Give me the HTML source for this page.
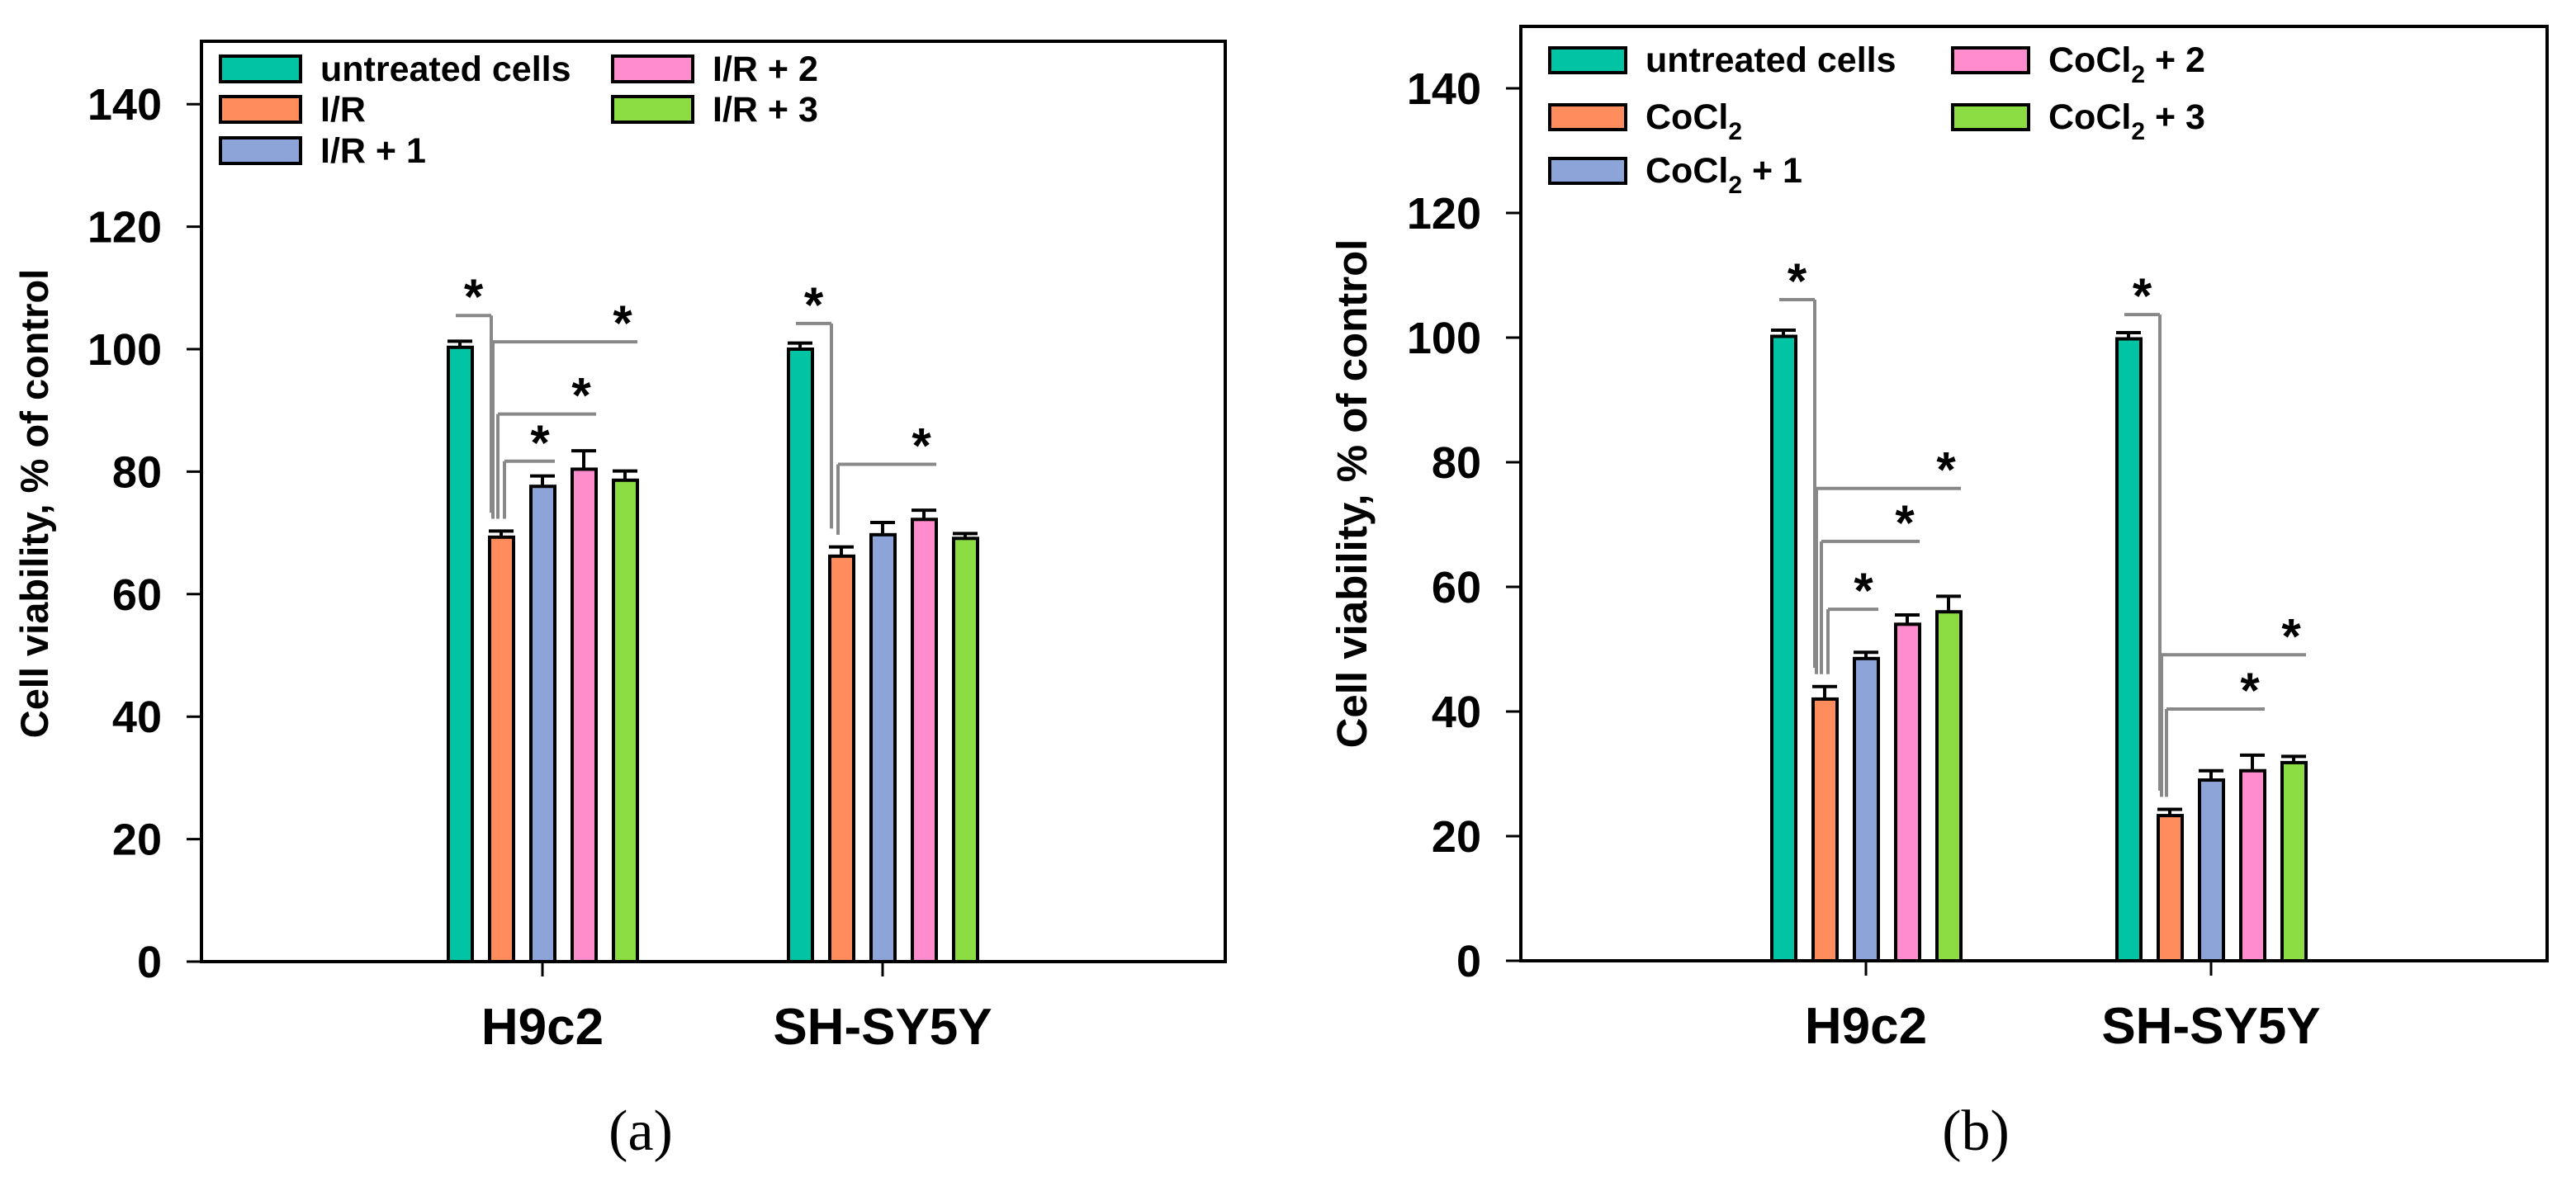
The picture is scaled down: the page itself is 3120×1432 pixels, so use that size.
<!DOCTYPE html>
<html><head><meta charset="utf-8">
<style>
html,body{margin:0;padding:0;background:#fff;}
svg{display:block;}
</style></head>
<body>
<svg id="fig" width="3120" height="1432" viewBox="0 0 3120 1432" xmlns="http://www.w3.org/2000/svg" font-family="Liberation Sans, Arial, sans-serif">
<rect width="3120" height="1432" fill="#fff"/>
</svg>
<script>
const categories = ["H9c2", "SH-SY5Y"];
const yTicks = [0, 20, 40, 60, 80, 100, 120, 140];
const colors = ["#00c4a4", "#ff8c5c", "#8ca4d8", "#ff8ccc", "#8cdc44"];
const seriesA = ["untreated cells", "I/R", "I/R + 1", "I/R + 2", "I/R + 3"];
const seriesB = ["untreated cells", "CoCl", "CoCl + 1", "CoCl + 2", "CoCl + 3"];
// values [category][series]
const valuesA_H9c2 = [100.3, 69.3, 77.6, 80.4, 78.6];
const valuesA_SH = [100.0, 66.2, 69.7, 72.2, 69.1];
const errA_H9c2 = [1.0, 1.0, 1.7, 3.0, 1.5];
const errA_SH = [1.0, 1.5, 2.0, 1.5, 0.8];
const valuesB_H9c2 = [100.2, 42.0, 48.5, 54.0, 56.0];
const valuesB_SH = [99.8, 23.3, 29.0, 30.5, 31.8];
const errB_H9c2 = [1.0, 2.0, 1.0, 1.5, 2.5];
const errB_SH = [1.0, 1.0, 1.5, 2.5, 1.0];
// significance brackets: [category index, from series, to series, level]
const sigA = [[0,0,1,105.5],[0,1,4,101.2],[0,1,3,89.4],[0,1,2,81.7],[1,0,1,104.2],[1,1,3,81.2]];
const sigB = [[0,0,1,106.1],[0,1,4,75.8],[0,1,3,67.3],[0,1,2,56.4],[1,0,1,103.7],[1,1,4,49.1],[1,1,3,40.4]];

const NS = "http://www.w3.org/2000/svg";
const svg = document.getElementById("fig");
function mk(tag, attrs, parent, txt){
  const e = document.createElementNS(NS, tag);
  for (const k in attrs) e.setAttribute(k, attrs[k]);
  if (txt !== undefined) e.textContent = txt;
  (parent || svg).appendChild(e);
  return e;
}

function panel(cfg){
  const g = mk("g", {});
  
  
  const y = v => cfg.y0 - v * cfg.ppu;
  const xc = (ci, si) => cfg.ticks[ci] + (si - 2) * cfg.pitch;
  for (let ci = 0; ci < 2; ci++){
    const vals = cfg.vals[ci], errs = cfg.errs[ci];
    for (let si = 0; si < 5; si++){
      const cx = xc(ci, si), v = vals[si], e = errs[si];
      const el = mk("line", {x1:cx, x2:cx, y1:y(v), y2:y(v+e), stroke:"#000", "stroke-width":4}, g);
      
      
      const cap = mk("line", {x1:cx-15, x2:cx+15, y1:y(v+e), y2:y(v+e), stroke:"#000", "stroke-width":4}, g);
      
      
      const r = mk("rect", {x:cx-14, y:y(v), width:29, height:y(0)-y(v), fill:colors[si], stroke:"#000", "stroke-width":4}, g);
      
      
    }
  }
  cfg.sig.forEach((s) => {
    const [ci, a, b, lvl] = s;
    const ya = y(lvl);
    let xl, xr, ybot;
    if (a === 0){
      xl = xc(ci, 0) - 5; xr = xc(ci, 1) - 12;
      ybot = y(cfg.vals[ci][1] + cfg.errs[ci][1] + 3);
    } else {
      xl = xc(ci, 1) - 6 + (b === 4 ? -4 : b === 3 ? 2 : 10);
      xr = xc(ci, b) + 15;
      ybot = y(cfg.vals[ci][1] + cfg.errs[ci][1] + 2);
    }
    const vx = a === 0 ? xr : xl;
    const p = mk("path", {d:`M${xl},${ya} H${xr} M${vx},${ya} V${ybot}`, fill:"none", stroke:"#888", "stroke-width":4}, g);
    
    
    const sx = a === 0 ? (xl + xr)/2 : xr - 18;
    const st = mk("text", {x:sx, y:ya - 2, "font-size":60, "font-weight":"bold", "text-anchor":"middle"}, g, "*");
    
    
  });
  const fr = mk("rect", {x:cfg.L, y:cfg.T, width:cfg.R-cfg.L, height:y(0)-cfg.T, fill:"none", stroke:"#000", "stroke-width":4}, g);
  
  
  yTicks.forEach(t => {
    const tl = mk("line", {x1:cfg.L-18, x2:cfg.L, y1:y(t), y2:y(t), stroke:"#000", "stroke-width":3}, g);
    
    
    const tx = mk("text", {x:cfg.L-48, y:y(t)+19, "font-size":54, "font-weight":"bold", "text-anchor":"end"}, g, String(t));
    
    
  });
  categories.forEach((c, ci) => {
    const tl = mk("line", {x1:cfg.ticks[ci], x2:cfg.ticks[ci], y1:y(0), y2:y(0)+18, stroke:"#000", "stroke-width":3}, g);
    
    
    const tx = mk("text", {x:cfg.ticks[ci], y:y(0)+100, "font-size":62, "font-weight":"bold", "text-anchor":"middle"}, g, c);
    
    
  });
  const yt = mk("text", {x:0, y:0, "font-size":cfg.titleSize, "font-weight":"bold", "text-anchor":"middle", transform:`translate(${cfg.titleX},${cfg.titleY}) rotate(-90)`}, g, "Cell viability, % of control");
  
  
  cfg.legend.forEach((lab, i) => {
    const col = i < 3 ? 0 : 1, row = i < 3 ? i : i - 3;
    const sx = cfg.legX[col], sy = cfg.legY[row];
    const sw = mk("rect", {x:sx, y:sy, width:cfg.swW, height:cfg.swH, fill:colors[i], stroke:"#000", "stroke-width":4}, g);
    
    
    const tx = mk("text", {x:sx + cfg.swW + 24, y:sy + cfg.swH - 1, "font-size":43, "font-weight":"bold"}, g);
    
    
    if (cfg.sub && i > 0){
      const parts = lab.split("CoCl");
      mk("tspan", {}, tx, "CoCl");
      mk("tspan", {dy:13, "font-size":30}, tx, "2");
      if (parts[1]) mk("tspan", {dy:-13}, tx, parts[1]);
    } else tx.textContent = lab;
  });
  const cap = mk("text", {x:cfg.capX, y:1393, "font-size":70, "font-family":"Liberation Serif, serif", "text-anchor":"middle"}, g, cfg.cap);
  
  
}

panel({name:"panel-a", L:244, R:1484, T:50, y0:1165, ppu:7.42, ticks:[657,1069], pitch:50,
  vals:[valuesA_H9c2, valuesA_SH], errs:[errA_H9c2, errA_SH], sig:sigA,
  titleX:58, titleY:610, titleSize:47, legend:seriesA, legX:[267,742], legY:[68,117,167], swW:97, swH:31,
  sub:false, capX:776, cap:"(a)"});
panel({name:"panel-b", L:1842, R:3085, T:32, y0:1164, ppu:7.55, ticks:[2260,2678], pitch:50,
  vals:[valuesB_H9c2, valuesB_SH], errs:[errB_H9c2, errB_SH], sig:sigB,
  titleX:1655, titleY:598, titleSize:51, legend:seriesB, legX:[1877,2365], legY:[58,127,192], swW:92, swH:30,
  sub:true, capX:2393, cap:"(b)"});
</script>
</body></html>
